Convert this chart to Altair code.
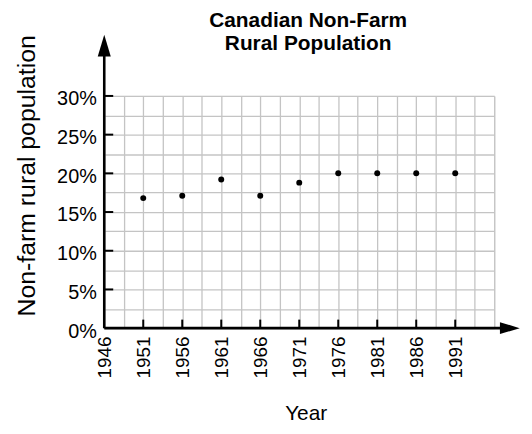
import altair as alt
import pandas as pd

# Data
years = [1951, 1956, 1961, 1966, 1971, 1976, 1981, 1986, 1991]
pct = [16.8, 17.1, 19.2, 17.1, 18.8, 20.0, 20.0, 20.0, 20.0]

# Axis helpers
x_grid_values = [1946 + 2.5 * i for i in range(21)]
y_grid_values = [2.5 * i for i in range(13)]
x_tick_years = [1951, 1956, 1961, 1966, 1971, 1976, 1981, 1986, 1991]
y_tick_pcts = [5, 10, 15, 20, 25, 30]
x_start, x_end, x_arrow = 1946, 1996, 1998
y_start, y_end, y_arrow = 0, 30, 36.5

FONT = "Liberation Sans"

points_df = pd.DataFrame({"year": years, "pct": pct})
xticks_df = pd.DataFrame({"year": x_tick_years, "pct": 0, "pct2": 1.1})
yticks_df = pd.DataFrame({"pct": y_tick_pcts, "year": x_start, "year2": x_start + 1.15})
yline_df = pd.DataFrame({"year": [x_start], "pct": [y_start], "pct2": [y_arrow]})
xline_df = pd.DataFrame({"pct": [y_start], "year": [x_start], "year2": [x_arrow]})
yarrow_df = pd.DataFrame({"year": [x_start], "pct": [y_arrow]})
xarrow_df = pd.DataFrame({"year": [x_arrow], "pct": [y_start]})

xscale = alt.Scale(domain=[x_start, x_end], nice=False, zero=False)
yscale = alt.Scale(domain=[y_start, y_end], nice=False, zero=False)

x_axis = alt.Axis(
    values=x_grid_values,
    grid=True,
    gridColor="#c4c4c4",
    gridWidth=1.3,
    ticks=False,
    domain=False,
    labelExpr="(datum.value % 5 == 1 && datum.value < 1995) ? ('' + datum.value) : ''",
    labelAngle=270,
    labelAlign="right",
    labelBaseline="middle",
    labelPadding=8,
    labelFontSize=19,
    labelFont=FONT,
    labelColor="black",
    labelFlush=False,
    labelOverlap=False,
    title="Year",
    titleFont=FONT,
    titleFontSize=21,
    titleFontWeight="normal",
    titleColor="black",
    titleX=203,
    titleY=92,
    titleAlign="center",
    titleBaseline="alphabetic",
)

y_axis = alt.Axis(
    values=y_grid_values,
    grid=True,
    gridColor="#c4c4c4",
    gridWidth=1.3,
    ticks=False,
    domain=False,
    labelExpr="(datum.value % 5 == 0) ? (datum.value + '%') : ''",
    labelPadding=8,
    labelOffset=3,
    labelFontSize=20,
    labelFont=FONT,
    labelColor="black",
    labelFlush=False,
    labelOverlap=False,
    title="Non-farm rural population",
    titleFont=FONT,
    titleFontSize=25,
    titleFontWeight="normal",
    titleColor="black",
    titleAngle=270,
    titleX=-78,
    titleY=80,
    titleAlign="center",
    titleBaseline="middle",
)

X = alt.X("year:Q", scale=xscale, axis=x_axis)
Y = alt.Y("pct:Q", scale=yscale, axis=y_axis)

points = alt.Chart(points_df).mark_circle(size=36, color="black", opacity=1).encode(x=X, y=Y)

xticks = alt.Chart(xticks_df).mark_rule(color="black", strokeWidth=2).encode(
    x=X, y=Y, y2="pct2:Q"
)

yticks = alt.Chart(yticks_df).mark_rule(color="black", strokeWidth=2).encode(
    y=Y, x=X, x2="year2:Q"
)

yline = alt.Chart(yline_df).mark_rule(color="black", strokeWidth=2.6).encode(
    x=X, y=Y, y2="pct2:Q"
)

xline = alt.Chart(xline_df).mark_rule(color="black", strokeWidth=2.6).encode(
    y=Y, x=X, x2="year2:Q"
)

yarrow = alt.Chart(yarrow_df).mark_point(
    shape="M0,-1L-0.6,1L0.6,1Z", size=480, filled=True, color="black", opacity=1
).encode(x=X, y=Y)

xarrow = alt.Chart(xarrow_df).mark_point(
    shape="M1,0L-1,-0.6L-1,0.6Z", size=400, filled=True, color="black", opacity=1
).encode(x=X, y=Y)

chart = (
    alt.layer(points, xticks, yticks, yline, xline, yarrow, xarrow)
    .properties(
        width=393,
        height=234,
        autosize=alt.AutoSizeParams(type="none"),
        padding={"left": 97, "top": 87, "right": 30, "bottom": 97},
        title=alt.TitleParams(
            text=["Canadian Non-Farm", "Rural Population"],
            font=FONT,
            fontSize=21,
            fontWeight="bold",
            color="black",
            anchor="middle",
            frame="group",
            dx=9,
            dy=19,
            offset=0,
            lineHeight=23,
        ),
    )
    .configure_view(stroke="transparent")
    .configure(background="white")
)

chart.save("out.html", embed_options={"renderer": "svg", "actions": False})
